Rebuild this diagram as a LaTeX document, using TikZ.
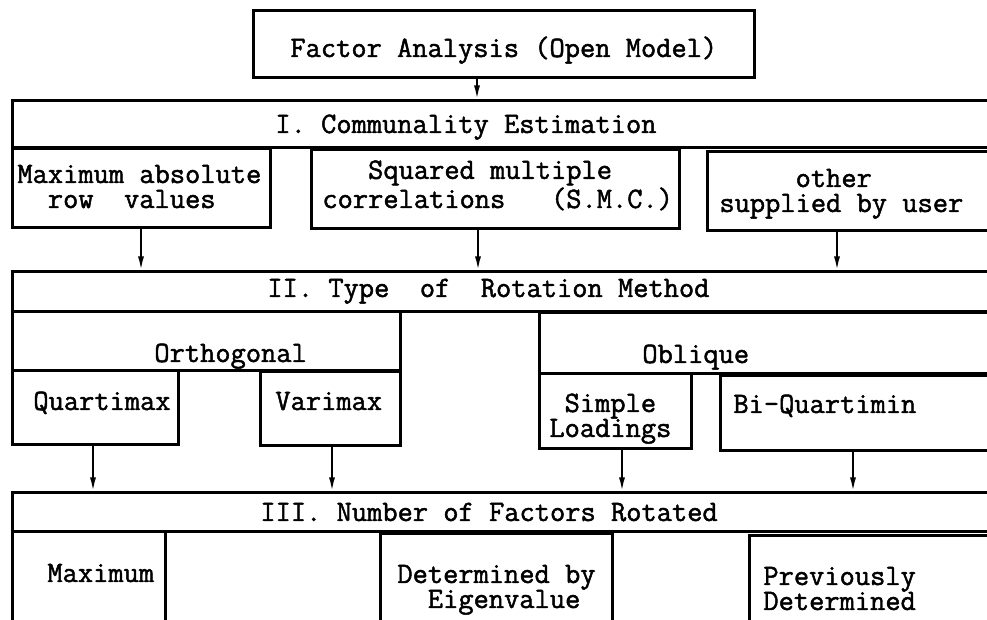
\documentclass[tikz,border=0pt]{standalone}
\usepackage{fontspec}
\newfontfamily\tw[FakeBold=1.6]{Latin Modern Mono}
\usetikzlibrary{fit,arrows.meta}
\begin{document}
\begin{tikzpicture}[x=0.5pt,y=-0.5pt,
  box/.style={draw, line width=1.5pt, inner sep=0pt},
  txt/.style={font=\tw\fontsize{14.8}{12.5}\selectfont, inner sep=0pt, anchor=base west, align=left},
  arr/.style={line width=1pt, -{Latex[length=7pt,width=3pt]}}]
\useasboundingbox (0,0) rectangle (987,620);
% boxes
\node[box, fit={(253,11) (754,78)}] (top) {};
\node[box, fit={(12,101) (1010,148)}] (bar1) {};
\node[box, fit={(12,149) (270,228)}] (b1) {};
\node[box, fit={(311,150) (679,229)}] (b2) {};
\node[box, fit={(707,152) (1010,231)}] (b3) {};
\node[box, fit={(12,272) (1010,312)}] (bar2) {};
\node[box, fit={(12,312) (400,371)}] (orth) {};
\node[box, fit={(539,313) (1010,374)}] (obl) {};
\node[box, fit={(12,371) (178,445)}] (quart) {};
\node[box, fit={(260,372) (400,446)}] (vari) {};
\node[box, fit={(539,374) (691,449)}] (simp) {};
\node[box, fit={(720,376) (1010,451)}] (biq) {};
\node[box, fit={(12,493) (1010,532)}] (bar3) {};
\node[box, fit={(12,532) (165,660)}] (maxb) {};
\node[box, fit={(380,534) (612,660)}] (detb) {};
\node[box, fit={(749,536) (1010,660)}] (prevb) {};
% texts (multi-line nodes: base = last line's baseline)
\node[txt] (t0) at (290,57) {Factor Analysis (Open Model)};
\node[txt] (t1) at (275,133) {I. Communality Estimation};
\node[txt] (t1a) at (17,208) {Maximum absolute\\\phantom{xx}row~~values};
\node[txt] (t1b) at (322,208) {\phantom{xxx}Squared multiple\\correlations~~~(S.M.C.)};
\node[txt] (t1c) at (719,212) {\phantom{xxxxx}other\\supplied by user};
\node[txt] (t2) at (267,297) {II. Type~~of~~Rotation Method};
\node[txt] (t2a) at (154,362) {Orthogonal};
\node[txt] (t2b) at (642,363) {Oblique};
\node[txt] (t2c) at (33,410) {Quartimax};
\node[txt] (t2d) at (275,410) {Varimax};
\node[txt] (t2e) at (549,437) {\phantom{x}Simple\\Loadings};
\node[txt] (t2f) at (733,413) {Bi-Quartimin};
\node[txt] (t3) at (260,521) {III. Number of Factors Rotated};
\node[txt] (t3a) at (47,582) {Maximum};
\node[txt] (t3b) at (397,608) {Determined by\\\phantom{xx}Eigenvalue};
\node[txt] (t3c) at (763,610) {Previously\\Determined};
% arrows
\draw[arr] (top.south -| 477,0) -- (bar1.north -| 477,0);
\draw[arr] (b1.south -| 141,0) -- (bar2.north -| 141,0);
\draw[arr] (b2.south -| 478,0) -- (bar2.north -| 478,0);
\draw[arr] (b3.south -| 837,0) -- (bar2.north -| 837,0);
\draw[arr] (quart.south -| 93,0) -- (bar3.north -| 93,0);
\draw[arr] (vari.south -| 332,0) -- (bar3.north -| 332,0);
\draw[arr] (simp.south -| 622,0) -- (bar3.north -| 622,0);
\draw[arr] (biq.south -| 853,0) -- (bar3.north -| 853,0);
\end{tikzpicture}
\end{document}
